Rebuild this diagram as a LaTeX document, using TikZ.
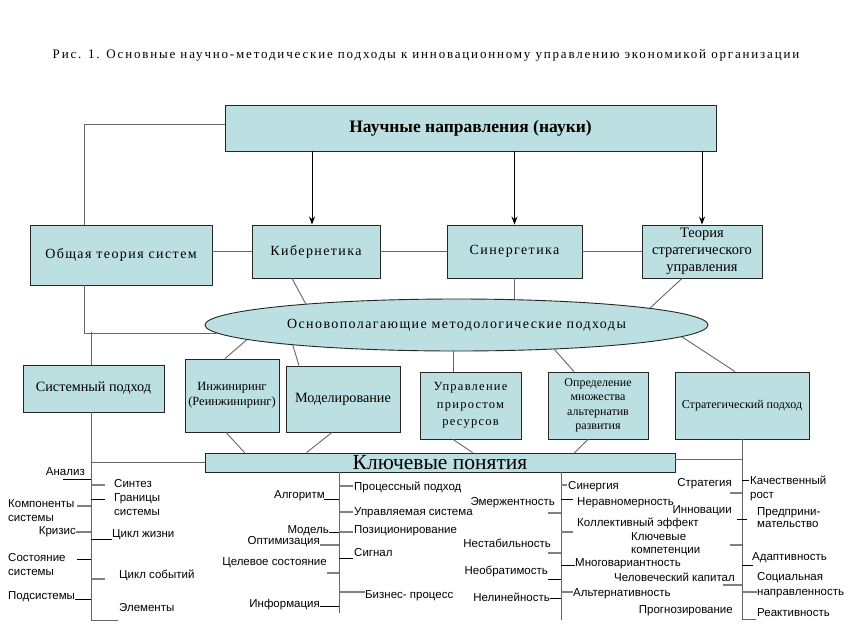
\documentclass[tikz,border=0pt]{standalone}
\usepackage{fontspec}
\setmainfont{Liberation Serif}
\newfontfamily\lblfont{Liberation Sans}
\newfontfamily\wideserif{Liberation Serif}[LetterSpace=10]
\newfontfamily\titlefont{Liberation Serif}[LetterSpace=14]
\usetikzlibrary{shapes.geometric,arrows.meta}
\definecolor{boxfill}{HTML}{BCDFE2}
\definecolor{tickgray}{HTML}{808080}

\tikzset{
  box/.style={draw=black!85, fill=boxfill, line width=0.9pt, inner sep=1pt, align=center},
  link/.style={draw=black!60, line width=0.9pt},
  arr/.style={draw=black, line width=0.9pt, -{Stealth[length=8pt,width=6pt]}},
  lbl/.style={inner sep=0pt, font=\lblfont\fontsize{11.5}{13.5}\selectfont, align=left},
  tk/.style={draw=black, line width=0.9pt},
  gtk/.style={draw=tickgray, line width=1.8pt},
}

\begin{document}
\begin{tikzpicture}[x=1pt,y=-1pt]
\fill[white] (0,0) rectangle (854,638);
\useasboundingbox (0,0) rectangle (854,638);

\node[inner sep=0pt, font=\titlefont\fontsize{13}{15}\selectfont] (title) at (426,55) {Рис. 1. Основные научно-методические подходы к инновационному управлению экономикой организации};

% sciences
\node[box, minimum width=491pt, minimum height=46pt, font=\fontsize{17.5}{19}\selectfont\bfseries] (sci) at (470.5,128) {Научные направления (науки)};
\node[box, minimum width=182pt, minimum height=60pt, font=\wideserif\fontsize{14}{16}\selectfont] (ots) at (121,255) {Общая теория систем};
\node[box, minimum width=128pt, minimum height=53pt, font=\wideserif\fontsize{14}{16}\selectfont] (kib) at (316,251.5) {Кибернетика};
\node[box, minimum width=135pt, minimum height=53pt, font=\wideserif\fontsize{14}{16}\selectfont] (syn) at (514.5,251.5) {Синергетика};
\node[box, minimum width=120pt, minimum height=53pt, font=\fontsize{14.5}{17}\selectfont] (tsu) at (702,251.5) {Теория\\стратегического\\управления};

% approaches
\node[box, ellipse, minimum width=503pt, minimum height=52pt, font=\wideserif\fontsize{14}{16}\selectfont] (ell) at (456.5,325) {Основополагающие методологические подходы};
\node[box, minimum width=141pt, minimum height=47pt, font=\fontsize{14.2}{16}\selectfont] (sys) at (93.5,388.5) {Системный подход};
\node[box, minimum width=94pt, minimum height=73pt, font=\fontsize{12.5}{15}\selectfont] (eng) at (232,395.5) {Инжиниринг\\(Реинжиниринг)};
\node[box, minimum width=114pt, minimum height=66pt, font=\fontsize{14.2}{16}\selectfont] (mod) at (343,399) {Моделирование};
\node[box, minimum width=101pt, minimum height=67pt, font=\wideserif\fontsize{12.5}{17.5}\selectfont] (res) at (470.5,405.5) {Управление\\приростом\\ресурсов};
\node[box, minimum width=100pt, minimum height=67pt, font=\fontsize{12}{14.5}\selectfont] (alt) at (598,405.5) {Определение\\множества\\альтернатив\\развития};
\node[box, minimum width=134pt, minimum height=67pt, font=\fontsize{12}{14}\selectfont] (str) at (742,405.5) {Стратегический подход};
\node[box, minimum width=470pt, minimum height=19pt, inner sep=0pt, font=\fontsize{21.5}{21.5}\selectfont] (key) at (440,462.5) {Ключевые понятия};

% spines and bends
\coordinate (s1) at (91,620);
\coordinate (s2) at (339,613);
\coordinate (s3) at (561,620);
\coordinate (s4) at (742,619);
\coordinate (jn) at (84,332);
\coordinate (ak) at (312,0);

% links between boxes
\draw[link] ([yshift=4pt]sci.west) -| ([xshift=-37pt]ots.north);
\draw[arr] (sci.south -| ak) -- (kib.north -| ak);
\draw[arr] (sci.south -| syn.north) -- (syn.north);
\draw[arr] (sci.south -| tsu.north) -- (tsu.north);
\draw[link] (ots.east |- kib.west) -- (kib.west);
\draw[link] (kib.east) -- (syn.west);
\draw[link] (syn.east) -- (tsu.west);
\draw[link] ([xshift=-24pt]kib.south) -- (ell.172);
\draw[link] (syn.south) -- (syn.south |- ell.north);
\draw[link] ([xshift=-20pt]tsu.south) -- (ell.5);
\draw[link] ([xshift=-37pt]ots.south) |- (ell.182);
\draw[link] (sys.north -| s1) -- (jn -| s1);
\draw[link] ([xshift=-7pt]eng.north) -- (ell.184);
\draw[link] ([xshift=-44pt]mod.north) -- (ell.187.3);
\draw[link] ([xshift=-17.5pt]res.north) -- ([xshift=-17.5pt]res.north |- ell.south);
\draw[link] ([xshift=-24pt]alt.north) -- (ell.346);
\draw[link] ([xshift=-7pt]str.north) -- (ell.357);
\draw[link] ([xshift=-6pt]eng.south) -- ([xshift=40pt]key.north west);
\draw[link] ([xshift=-11pt]mod.south) -- ([xshift=102pt]key.north west);
\draw[link] ([xshift=-17.5pt]res.south) -- ([xshift=268pt]key.north west);
\draw[link] ([xshift=-10pt]alt.south) -- ([xshift=370pt]key.north west);
\draw[link] (sys.south -| s1) -- (s1) -- ++(27,0);
\draw[link] (key.west -| s1) -- (key.west);
\draw[link] (key.south -| s2) -- (s2);
\draw[link] (key.south -| s3) -- (s3);
\draw[link] (str.south) -- (s4) -- ++(14,0);
\draw[link] ([yshift=3.5pt]key.east) -- ([yshift=3.5pt]key.east -| s4);

% key notions, column 1
\node[lbl, anchor=east] (c1a) at (85,472) {Анализ};
\node[lbl, anchor=west] (c1b) at (114,484) {Синтез};
\node[lbl, anchor=west, font=\lblfont\fontsize{11.5}{14}\selectfont] (c1c) at (114,505) {Границы\\системы};
\node[lbl, anchor=west, font=\lblfont\fontsize{11.5}{14}\selectfont] (c1d) at (8,511) {Компоненты\\системы};
\node[lbl, anchor=east] (c1e) at (76,532) {Кризис};
\node[lbl, anchor=west] (c1f) at (112,535) {Цикл жизни};
\node[lbl, anchor=west, font=\lblfont\fontsize{11.5}{14}\selectfont] (c1g) at (8,565) {Состояние\\системы};
\node[lbl, anchor=west] (c1h) at (119,575) {Цикл событий};
\node[lbl, anchor=west] (c1i) at (8,597) {Подсистемы};
\node[lbl, anchor=west] (c1j) at (119,608) {Элементы};

% column 2
\node[lbl, anchor=west] (c2a) at (354,487) {Процессный подход};
\node[lbl, anchor=east] (c2b) at (325,496) {Алгоритм};
\node[lbl, anchor=west] (c2c) at (354,513) {Управляемая система};
\node[lbl, anchor=east] (c2d) at (329,531) {Модель};
\node[lbl, anchor=west] (c2e) at (354,531) {Позиционирование};
\node[lbl, anchor=east] (c2f) at (320,542) {Оптимизация};
\node[lbl, anchor=west] (c2g) at (354,553) {Сигнал};
\node[lbl, anchor=east] (c2h) at (327,563) {Целевое состояние};
\node[lbl, anchor=west] (c2i) at (365,596) {Бизнес- процесс};
\node[lbl, anchor=east] (c2j) at (320,605) {Информация};

% column 3
\node[lbl, anchor=west] (c3a) at (568,487) {Синергия};
\node[lbl, anchor=east] (c3b) at (555,503) {Эмержентность};
\node[lbl, anchor=west] (c3c) at (577,503) {Неравномерность};
\node[lbl, anchor=west] (c3d) at (577,523) {Коллективный эффект};
\node[lbl, anchor=west, font=\lblfont\fontsize{11.5}{13}\selectfont] (c3e) at (631,544.5) {Ключевые\\компетенции};
\node[lbl, anchor=east] (c3f) at (551,543) {Нестабильность};
\node[lbl, anchor=west] (c3g) at (575,564) {Многовариантность};
\node[lbl, anchor=east] (c3h) at (548,571) {Необратимость};
\node[lbl, anchor=east] (c3i) at (735,577) {Человеческий капитал};
\node[lbl, anchor=west] (c3j) at (573,594) {Альтернативность};
\node[lbl, anchor=east] (c3k) at (550,597) {Нелинейность};
\node[lbl, anchor=east] (c3l) at (733,611) {Прогнозирование};

% column 4
\node[lbl, anchor=east] (c4a) at (732,484) {Стратегия};
\node[lbl, anchor=west, font=\lblfont\fontsize{11.5}{13.5}\selectfont] (c4b) at (750,488.5) {Качественный\\рост};
\node[lbl, anchor=east] (c4c) at (732,511) {Инновации};
\node[lbl, anchor=west, font=\lblfont\fontsize{11.5}{11.5}\selectfont] (c4d) at (757,517.5) {Предприни-\\мательство};
\node[lbl, anchor=west] (c4e) at (752,558) {Адаптивность};
\node[lbl, anchor=west, font=\lblfont\fontsize{11.5}{15}\selectfont] (c4f) at (757,585) {Социальная\\направленность};
\node[lbl, anchor=west] (c4g) at (757,613) {Реактивность};

% ticks
\foreach \xa/\xb/\y in {63/91/479, 91/105/499, 91/112/539, 77/91/559, 75/91/599,
  324/339/499, 329/339/532, 339/353/558, 320/339/606,
  561/573/499, 561/575/565, 548/561/579, 550/561/598,
  742/749/480, 737/747/519, 742/753/565}
  \draw[tk] (\xa,\y) -- (\xb,\y);
\foreach \xa/\xb/\y in {91/105/485, 77/91/506, 76/91/532, 91/105/579,
  339/353/486, 339/353/512, 339/353/532, 320/339/545, 327/339/573, 339/365/592,
  561/567/485, 548/561/513, 561/573/532, 548/561/553, 561/573/592,
  730/742/493, 730/742/545, 723/742/585, 742/757/592}
  \draw[gtk] (\xa,\y) -- (\xb,\y);
\end{tikzpicture}
\end{document}
